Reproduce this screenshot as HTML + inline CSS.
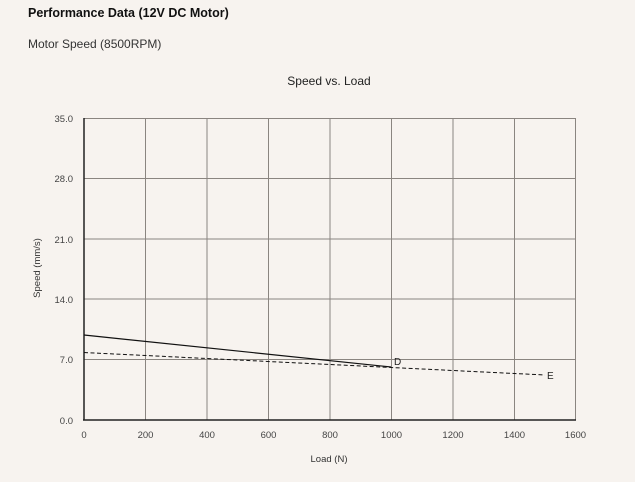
<!DOCTYPE html>
<html><head><style>
html,body{margin:0;padding:0;background:#f7f3ef;}
body{width:635px;height:482px;overflow:hidden;position:relative;font-family:"Liberation Sans",sans-serif;}
</style></head><body>
<svg width="635" height="482" xmlns="http://www.w3.org/2000/svg" style="position:absolute;left:0;top:0">
<rect width="635" height="482" fill="#f7f3ef"/>
<text x="28" y="17" font-size="12.5" font-weight="bold" fill="#111">Performance Data (12V DC Motor)</text>
<text x="28" y="48" font-size="12" fill="#333">Motor Speed (8500RPM)</text>
<text x="329" y="85" font-size="12" fill="#222" text-anchor="middle">Speed vs. Load</text>
<g stroke="#8a8580" stroke-width="1">
<line x1="145.5" y1="118" x2="145.5" y2="420"/>
<line x1="207" y1="118" x2="207" y2="420"/>
<line x1="268.5" y1="118" x2="268.5" y2="420"/>
<line x1="330" y1="118" x2="330" y2="420"/>
<line x1="391.5" y1="118" x2="391.5" y2="420"/>
<line x1="453" y1="118" x2="453" y2="420"/>
<line x1="514.5" y1="118" x2="514.5" y2="420"/>
<line x1="575.5" y1="118" x2="575.5" y2="420"/>
<line x1="84" y1="118.5" x2="576" y2="118.5"/>
<line x1="84" y1="178.5" x2="576" y2="178.5"/>
<line x1="84" y1="239" x2="576" y2="239"/>
<line x1="84" y1="299" x2="576" y2="299"/>
<line x1="84" y1="359.5" x2="576" y2="359.5"/>
</g>
<line x1="84" y1="118" x2="84" y2="420" stroke="#222" stroke-width="1.5"/>
<line x1="83" y1="420" x2="576" y2="420" stroke="#222" stroke-width="1.5"/>
<line x1="84" y1="335" x2="391" y2="367" stroke="#111" stroke-width="1.2"/>
<line x1="84" y1="352.5" x2="545" y2="375" stroke="#111" stroke-width="1" stroke-dasharray="4,2.5"/>
<text x="394" y="365" font-size="10" fill="#222">D</text>
<text x="547" y="379" font-size="10" fill="#222">E</text>
<g font-size="9.5" fill="#444" text-anchor="end">
<text x="73" y="122">35.0</text>
<text x="73" y="182">28.0</text>
<text x="73" y="243">21.0</text>
<text x="73" y="303">14.0</text>
<text x="73" y="363">7.0</text>
<text x="73" y="424">0.0</text>
</g>
<g font-size="9.5" fill="#444" text-anchor="middle">
<text x="84" y="438">0</text>
<text x="145.5" y="438">200</text>
<text x="207" y="438">400</text>
<text x="268.5" y="438">600</text>
<text x="330" y="438">800</text>
<text x="391.5" y="438">1000</text>
<text x="453" y="438">1200</text>
<text x="514.5" y="438">1400</text>
<text x="575.5" y="438">1600</text>
</g>
<text x="329" y="462" font-size="9.5" fill="#333" text-anchor="middle">Load (N)</text>
<text transform="translate(40,268) rotate(-90)" font-size="9.5" fill="#333" text-anchor="middle">Speed (mm/s)</text>
</svg>
</body></html>
